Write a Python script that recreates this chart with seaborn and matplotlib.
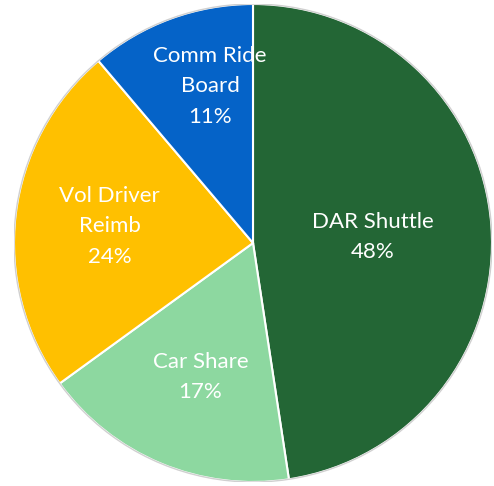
import matplotlib
matplotlib.use("Agg")
import matplotlib.pyplot as plt
import seaborn as sns

sns.set_theme(style="white")
plt.rcParams['font.family'] = ['Lato', 'DejaVu Sans']

# data
categories = ['DAR Shuttle', 'Car Share', 'Vol Driver\nReimb', 'Comm Ride\nBoard']
shares = [47.6, 17.4, 23.8, 11.2]
colors = ['#236635', '#8DD8A0', '#FFC000', '#0563C8']

fig = plt.figure(figsize=(4.94, 4.86), dpi=100)
ax = fig.add_axes([14 / 494, 4 / 486, 478 / 494, 478 / 486])

labels_iter = iter(categories)


def fmt(p):
    return f"{next(labels_iter)}\n{p:.0f}%"


wedges, texts, autotexts = ax.pie(
    shares, colors=colors, startangle=90, counterclock=False,
    autopct=fmt, pctdistance=0.6,
    wedgeprops=dict(edgecolor='white', linewidth=1.5),
    textprops=dict(color='white', fontsize=16, linespacing=1.65),
)
# Excel-like label spots
autotexts[0].set_position((0.50, 0.025))
autotexts[1].set_position((-0.22, -0.56))
autotexts[2].set_position((-0.60, 0.07))
autotexts[3].set_position((-0.18, 0.655))

# faint grey rim around the pie
ax.add_patch(plt.Circle((0, 0), 1.0, fill=False, edgecolor='#d0d0d0', linewidth=1))

ax.set_xlim(-1.0, 1.0)
ax.set_ylim(-1.0, 1.0)
ax.set_aspect('equal')
ax.axis('off')

fig.savefig("out.png", dpi=100)
